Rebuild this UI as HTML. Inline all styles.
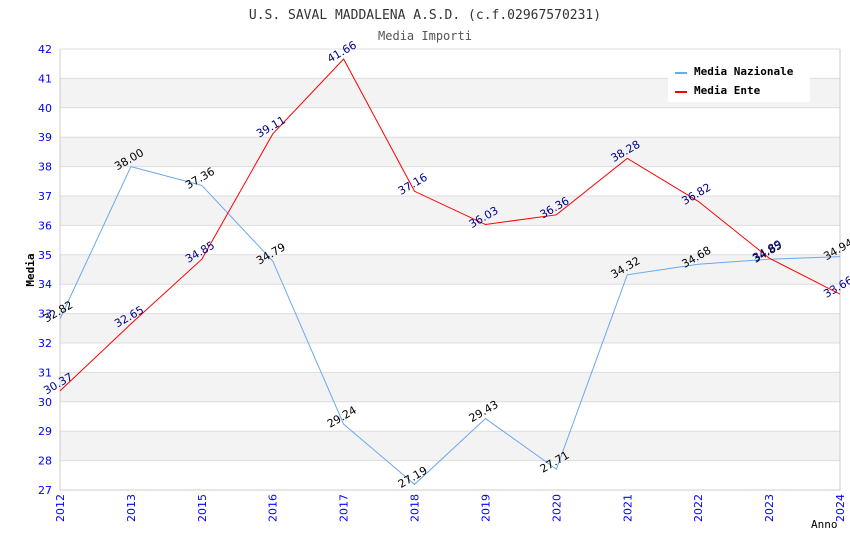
<!DOCTYPE html>
<html><head><meta charset="utf-8"><style>
body{margin:0;background:#fff}
.mono{font-family:"DejaVu Sans Mono","Liberation Mono",monospace}
.sans{font-family:"DejaVu Sans","Liberation Sans",sans-serif}
</style></head><body>
<svg id="c" width="850" height="550" xmlns="http://www.w3.org/2000/svg">
<text class="mono" x="425" y="19" text-anchor="middle" font-size="13" fill="#333">U.S. SAVAL MADDALENA A.S.D. (c.f.02967570231)</text>
<text class="mono" x="425" y="40" text-anchor="middle" font-size="12" fill="#555">Media Importi</text>
<g id="grid"></g><g id="axes"></g><g id="series"></g>
<text class="mono" x="34" y="270" text-anchor="middle" font-size="11" font-weight="bold" fill="#000" transform="rotate(-90 34 270)">Media</text>
<text class="mono" x="811" y="528" font-size="11" fill="#000">Anno</text>
<g>
<rect x="668" y="60" width="142" height="42" fill="#fff"/>
<line x1="675" y1="73" x2="687" y2="73" stroke="#6aa8f0" stroke-width="2"/>
<text class="mono" x="694" y="75" font-size="11" font-weight="bold">Media Nazionale</text>
<line x1="675" y1="92" x2="687" y2="92" stroke="#f00" stroke-width="2"/>
<text class="mono" x="694" y="94" font-size="11" font-weight="bold">Media Ente</text>
</g>
</svg>
<script>
const categories=["2012","2013","2015","2016","2017","2018","2019","2020","2021","2022","2023","2024"];
const nazionale=[32.82,38.00,37.36,34.79,29.24,27.19,29.43,27.71,34.32,34.68,34.85,34.94];
const ente=[30.37,32.65,34.85,39.11,41.66,37.16,36.03,36.36,38.28,36.82,34.89,33.66];
const yTicks=[27,28,29,30,31,32,33,34,35,36,37,38,39,40,41,42];
const NS="http://www.w3.org/2000/svg";
const L=60,R=840,T=49,B=490,ymin=27,ymax=42;
const x=i=>L+i*(R-L)/(categories.length-1);
const y=v=>B-(v-ymin)*(B-T)/(ymax-ymin);
function mk(p,tag,at){const e=document.createElementNS(NS,tag);for(const k in at)e.setAttribute(k,at[k]);p.appendChild(e);return e;}
const grid=document.getElementById('grid'),axes=document.getElementById('axes'),ser=document.getElementById('series');
for(let v=ymin;v<ymax;v++){if(v%2===0){const r=mk(grid,'rect',{x:L,y:y(v+1),width:R-L,height:y(v)-y(v+1),fill:'#f3f3f3'});

}}
yTicks.forEach(v=>{const l=mk(grid,'line',{x1:L,x2:R,y1:y(v),y2:y(v),stroke:'#ddd'});


const t=mk(axes,'text',{class:'sans',x:L-8,y:y(v)+4,'text-anchor':'end','font-size':11,fill:'#00f'});t.textContent=v;

});
const ax=mk(axes,'path',{d:`M${L},${T}V${B}H${R}V${T}`,fill:'none',stroke:'#ccc'});


categories.forEach((c,i)=>{const t=mk(axes,'text',{class:'sans',x:x(i)+4,y:B+4,'text-anchor':'end','font-size':11,fill:'#00f',transform:`rotate(-90 ${x(i)+4} ${B+4})`});t.textContent=c;

});
function draw(data,color,lab,name){
const p=mk(ser,'polyline',{points:data.map((v,i)=>x(i)+','+y(v)).join(' '),fill:'none',stroke:color,'stroke-width':1});


data.forEach((v,i)=>{const t=mk(ser,'text',{class:'sans',x:x(i),y:y(v)-4,'text-anchor':'middle','font-size':11,fill:lab,transform:`rotate(-30 ${x(i)} ${y(v)-4})`});t.textContent=v.toFixed(2);

});}
draw(nazionale,'#6aa8f0','#000','nazionale');
draw(ente,'#f00','#00008b','ente');
</script>
</body></html>
